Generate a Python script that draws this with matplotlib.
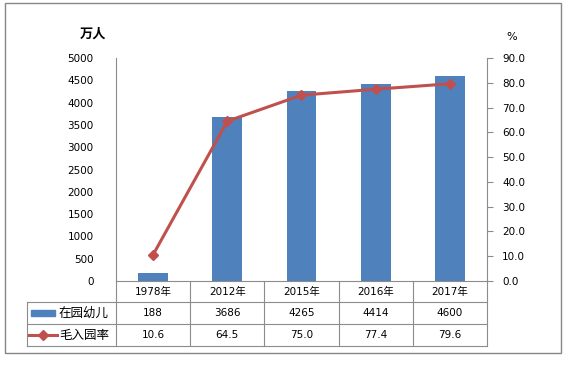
import matplotlib.pyplot as plt
import matplotlib.transforms as mtransforms
from matplotlib.lines import Line2D
from matplotlib.patches import Rectangle
import numpy as np

plt.rcParams['font.family'] = ['DejaVu Sans', 'Noto Sans CJK SC']

years = ['1978年', '2012年', '2015年', '2016年', '2017年']
children = [188, 3686, 4265, 4414, 4600]
rate = [10.6, 64.5, 75.0, 77.4, 79.6]
children_txt = ['188', '3686', '4265', '4414', '4600']
rate_txt = ['10.6', '64.5', '75.0', '77.4', '79.6']
name_bar = '在园幼儿'
name_line = '毛入园率'

W, H = 576, 368
blue = '#4F81BD'
red = '#C0504D'
grid_c = '#8C8C8C'
fs = 7.5
cjk = ['Noto Sans CJK SC', 'DejaVu Sans']
mixed = ['DejaVu Sans', 'Noto Sans CJK SC']


def fx(x):
    return x / W


def fy(y):
    return 1 - y / H


fig = plt.figure(figsize=(W / 100, H / 100), dpi=100)
ax = fig.add_axes([fx(116), fy(281), fx(487) - fx(116), fy(58) - fy(281)])
x = np.arange(len(years))
ax.bar(x, children, width=0.4, color=blue, zorder=2)
ax.set_xlim(-0.5, len(years) - 0.5)
ax.set_ylim(0, 5000)
ax.set_yticks(np.arange(0, 5001, 500))
ax.tick_params(axis='y', length=0, pad=16, labelsize=fs)
ax.set_xticks([])
for s in ['top', 'right', 'bottom']:
    ax.spines[s].set_visible(False)
ax.spines['left'].set_color(grid_c)
ax.spines['left'].set_linewidth(0.8)

ax2 = ax.twinx()
ax2.plot(x, rate, color=red, lw=2.2, marker='D', ms=5, mfc=red, mec=red, zorder=3)
ax2.set_ylim(0, 90)
ax2.set_yticks(np.arange(0, 91, 10))
ax2.set_yticklabels(['%.1f' % v for v in np.arange(0, 91, 10)])
ax2.tick_params(axis='y', length=4, width=0.8, color=grid_c, pad=7, labelsize=fs)
for s in ['top', 'left', 'bottom']:
    ax2.spines[s].set_visible(False)
ax2.spines['right'].set_color(grid_c)
ax2.spines['right'].set_linewidth(0.8)
ax2.set_xlim(-0.5, len(years) - 0.5)

# axis unit labels
fig.text(fx(93), fy(34), '万人', ha='center', va='center', fontsize=9.5,
         fontweight='bold', family=cjk)
fig.text(fx(512), fy(37), '%', ha='center', va='center', fontsize=8)

# data table under the axes
bt = mtransforms.blended_transform_factory(ax.transData, fig.transFigure)
row_y = [281, 302, 324, 346]
edges = np.arange(len(years) + 1) - 0.5
for e in edges:
    ax.add_line(Line2D([e, e], [fy(281), fy(346)], transform=bt, color=grid_c,
                       lw=0.8, clip_on=False))
fig.add_artist(Line2D([fx(27), fx(27)], [fy(302), fy(346)], color=grid_c, lw=0.8))
ax.add_line(Line2D([edges[0], edges[-1]], [fy(281), fy(281)], transform=bt,
                   color=grid_c, lw=0.8, clip_on=False))
for yy in row_y[1:]:
    fig.add_artist(Line2D([fx(27), fx(487)], [fy(yy), fy(yy)], color=grid_c, lw=0.8))

for i in range(len(years)):
    ax.text(x[i], fy(292), years[i], transform=bt, ha='center', va='center',
            fontsize=fs, family=mixed)
    ax.text(x[i], fy(313.5), children_txt[i], transform=bt, ha='center', va='center',
            fontsize=fs)
    ax.text(x[i], fy(335.5), rate_txt[i], transform=bt, ha='center', va='center',
            fontsize=fs)

# legend keys inside the table
fig.add_artist(Rectangle((fx(31), fy(316)), fx(55) - fx(31), fy(310) - fy(316),
                         color=blue))
fig.add_artist(Line2D([fx(29), fx(43), fx(57)], [fy(335), fy(335), fy(335)],
                      color=red, lw=2.2, marker='D', markevery=[1], ms=5))
fig.text(fx(59), fy(313.5), name_bar, ha='left', va='center', fontsize=9, family=cjk)
fig.text(fx(59), fy(335.5), name_line, ha='left', va='center', fontsize=9, family=cjk)

# outer frame
fig.add_artist(Rectangle((fx(5), fy(353)), fx(561) - fx(5), fy(3) - fy(353),
                         fill=False, edgecolor='#868686', lw=1))

fig.savefig('out.png', dpi=100)
